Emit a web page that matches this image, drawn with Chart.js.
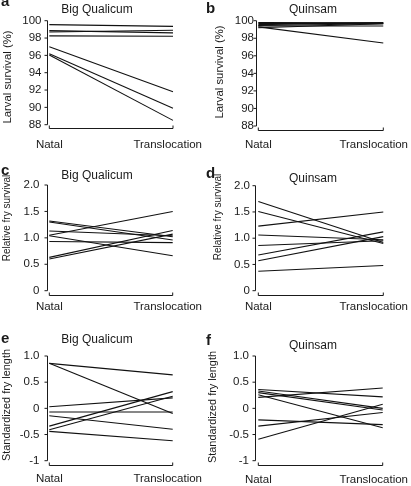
<!DOCTYPE html>
<html>
<head>
<meta charset="utf-8">
<script src="https://cdn.jsdelivr.net/npm/chart.js@4.4.0/dist/chart.umd.min.js"></script>
<style>
  body { margin: 0; background: #fff; width: 411px; height: 486px; position: relative; overflow: hidden; }
  canvas { position: absolute; }
</style>
</head>
<body>
<canvas id="pa" width="205" height="160" style="left:0;top:0"></canvas>
<canvas id="pb" width="206" height="160" style="left:205px;top:0"></canvas>
<canvas id="pc" width="205" height="160" style="left:0;top:160px"></canvas>
<canvas id="pd" width="206" height="160" style="left:205px;top:160px"></canvas>
<canvas id="pe" width="205" height="166" style="left:0;top:320px"></canvas>
<canvas id="pf" width="206" height="166" style="left:205px;top:320px"></canvas>
<script>
// categories + tick labels
const xLabels = ['Natal', 'Translocation'];
const larvalTicks = ['88', '90', '92', '94', '96', '98', '100'];
const fryTicks = ['0', '0.5', '1.0', '1.5', '2.0'];
const lengthTicks = ['-1', '-0.5', '0', '0.5', '1.0'];

// a: Big Qualicum larval survival (%)
const bqLarvalNatal = [99.55, 98.85, 98.7, 98.25, 97.0, 96.2, 96.05];
const bqLarvalTrans = [99.35, 98.6, 98.9, 98.2, 91.8, 89.9, 88.5];
// b: Quinsam larval survival (%)
const qLarvalNatal = [99.8, 99.7, 99.55, 99.45, 99.4, 99.3, 99.2];
const qLarvalTrans = [99.75, 99.7, 99.8, 99.65, 99.4, 97.45, 99.65];
// c: Big Qualicum relative fry survival
const bqFryNatal = [1.32, 1.30, 1.13, 1.05, 1.04, 0.93, 0.63, 0.60];
const bqFryTrans = [1.02, 0.96, 1.04, 1.50, 0.66, 0.91, 1.14, 1.07];
// d: Quinsam relative fry survival
const qFryNatal = [1.70, 1.51, 1.23, 1.06, 0.86, 0.68, 0.57, 0.37];
const qFryTrans = [0.92, 0.90, 1.50, 0.97, 0.95, 1.12, 1.03, 0.48];
// e: Big Qualicum standardized fry length
const bqLenNatal = [0.86, 0.86, 0.03, -0.07, -0.14, -0.34, -0.41, -0.44];
const bqLenTrans = [0.64, -0.10, 0.20, -0.07, -0.40, 0.32, 0.23, -0.62];
// f: Quinsam standardized fry length
const qLenNatal = [0.36, 0.33, 0.30, 0.26, 0.21, -0.22, -0.34, -0.59];
const qLenTrans = [0.22, 0.0, -0.03, -0.37, 0.39, -0.31, -0.08, 0.08];

const FONT = '"Liberation Sans", Arial, Helvetica, sans-serif';
const INK = '#1a1a1a';

// layout of each panel (pixels inside its canvas)
const panels = [
  { id: 'pa', letter: 'a', letterY: 5.5, title: 'Big Qualicum', titleX: 97, titleY: 12.5,
    yTitle: 'Larval survival (%)', yTitleX: 8, yTitleY: 77, yTitleSize: 11.3,
    natal: bqLarvalNatal, trans: bqLarvalTrans, ticks: larvalTicks, min: 88, max: 100, step: 2,
    left: 49.3, right: 173, top: 20.7, bottom: 124.7, axisX: 47.5, axisY: 128.5, labelRight: 41.5, labelY: 148 },
  { id: 'pb', letter: 'b', letterY: 12.5, title: 'Quinsam', titleX: 108, titleY: 12.5,
    yTitle: 'Larval survival (%)', yTitleX: 15, yTitleY: 72, yTitleSize: 11.3,
    natal: qLarvalNatal, trans: qLarvalTrans, ticks: larvalTicks, min: 88, max: 100, step: 2,
    left: 53.3, right: 178.3, top: 20.7, bottom: 126, axisX: 51.5, axisY: 130.5, labelRight: 49, labelY: 148 },
  { id: 'pc', letter: 'c', letterY: 15, title: 'Big Qualicum', titleX: 97, titleY: 19,
    yTitle: 'Relative fry survival', yTitleX: 7, yTitleY: 58, yTitleSize: 10,
    natal: bqFryNatal, trans: bqFryTrans, ticks: fryTicks, min: 0, max: 2, step: 0.5,
    left: 49.3, right: 172.7, top: 25, bottom: 130.7, axisX: 47.5, axisY: 135.5, labelRight: 39.5, labelY: 150 },
  { id: 'pd', letter: 'd', letterY: 18, title: 'Quinsam', titleX: 108, titleY: 21.7,
    yTitle: 'Relative fry survival', yTitleX: 13, yTitleY: 57, yTitleSize: 10,
    natal: qFryNatal, trans: qFryTrans, ticks: fryTicks, min: 0, max: 2, step: 0.5,
    left: 53.3, right: 178.3, top: 25.7, bottom: 130.7, axisX: 50.5, axisY: 135.5, labelRight: 45, labelY: 150 },
  { id: 'pe', letter: 'e', letterY: 23, title: 'Big Qualicum', titleX: 97, titleY: 23.3,
    yTitle: 'Standardized fry length', yTitleX: 7, yTitleY: 85, yTitleSize: 10.9,
    natal: bqLenNatal, trans: bqLenTrans, ticks: lengthTicks, min: -1, max: 1, step: 0.5,
    left: 49.3, right: 172.7, top: 36, bottom: 140.7, axisX: 47.5, axisY: 145.5, labelRight: 39.5, labelY: 162 },
  { id: 'pf', letter: 'f', letterY: 25, title: 'Quinsam', titleX: 108, titleY: 29,
    yTitle: 'Standardized fry length', yTitleX: 8, yTitleY: 87, yTitleSize: 10.9,
    natal: qLenNatal, trans: qLenTrans, ticks: lengthTicks, min: -1, max: 1, step: 0.5,
    left: 53.3, right: 177.7, top: 36, bottom: 140.7, axisX: 50.5, axisY: 145.5, labelRight: 44, labelY: 163 }
];

// draws the offset axis frames, x labels, titles and panel letters
function decor(p) {
  return {
    id: 'decor',
    afterDraw(chart) {
      const ctx = chart.ctx;
      const ys = chart.scales.y;
      const xs = chart.scales.x;
      ctx.save();
      ctx.strokeStyle = INK;
      ctx.lineWidth = 1;
      ctx.beginPath();
      ctx.moveTo(p.axisX, ys.getPixelForValue(p.max));
      ctx.lineTo(p.axisX, ys.getPixelForValue(p.min));
      ys.ticks.forEach(t => {
        const y = ys.getPixelForValue(t.value);
        ctx.moveTo(p.axisX - 3, y);
        ctx.lineTo(p.axisX, y);
      });
      const x0 = xs.getPixelForValue(0);
      const x1 = xs.getPixelForValue(1);
      ctx.moveTo(x0, p.axisY);
      ctx.lineTo(x1, p.axisY);
      ctx.moveTo(x0, p.axisY);
      ctx.lineTo(x0, p.axisY - 3);
      ctx.moveTo(x1, p.axisY);
      ctx.lineTo(x1, p.axisY - 3);
      ctx.stroke();

      ctx.fillStyle = INK;
      ctx.font = '11.5px ' + FONT;
      ctx.textAlign = 'center';
      ctx.textBaseline = 'alphabetic';
      ctx.fillText(xLabels[0], x0, p.labelY);
      const w = ctx.measureText(xLabels[1]).width;
      ctx.fillText(xLabels[1], Math.min(x1, chart.width - 3 - w / 2), p.labelY);

      ctx.font = '12px ' + FONT;
      ctx.fillText(p.title, p.titleX, p.titleY);

      ctx.save();
      ctx.font = p.yTitleSize + 'px ' + FONT;
      ctx.translate(p.yTitleX, p.yTitleY);
      ctx.rotate(-Math.PI / 2);
      ctx.textBaseline = 'middle';
      ctx.fillText(p.yTitle, 0, 0);
      ctx.restore();

      ctx.font = 'bold 15px ' + FONT;
      ctx.textAlign = 'left';
      ctx.fillText(p.letter, 1, p.letterY);
      ctx.restore();
    }
  };
}

panels.forEach(p => {
  const canvas = document.getElementById(p.id);
  new Chart(canvas, {
    type: 'line',
    data: {
      labels: xLabels,
      datasets: p.natal.map((v, i) => ({
        data: [v, p.trans[i]],
        borderColor: '#111',
        borderWidth: 1.1,
        pointRadius: 0,
        fill: false,
        tension: 0
      }))
    },
    options: {
      responsive: false,
      animation: false,
      events: [],
      layout: { padding: { left: 0, top: p.top, right: canvas.width - p.right, bottom: canvas.height - p.bottom } },
      plugins: { legend: { display: false }, tooltip: { enabled: false } },
      scales: {
        x: { display: false },
        y: {
          min: p.min,
          max: p.max,
          afterFit(s) { s.width = p.left; },
          grid: { display: false, drawTicks: false },
          border: { display: false },
          ticks: {
            stepSize: p.step,
            padding: p.left - p.labelRight,
            color: INK,
            font: { family: FONT, size: 11.5 },
            callback: (v, i) => p.ticks[i]
          }
        }
      }
    },
    plugins: [decor(p)]
  });
});
</script>
</body>
</html>
